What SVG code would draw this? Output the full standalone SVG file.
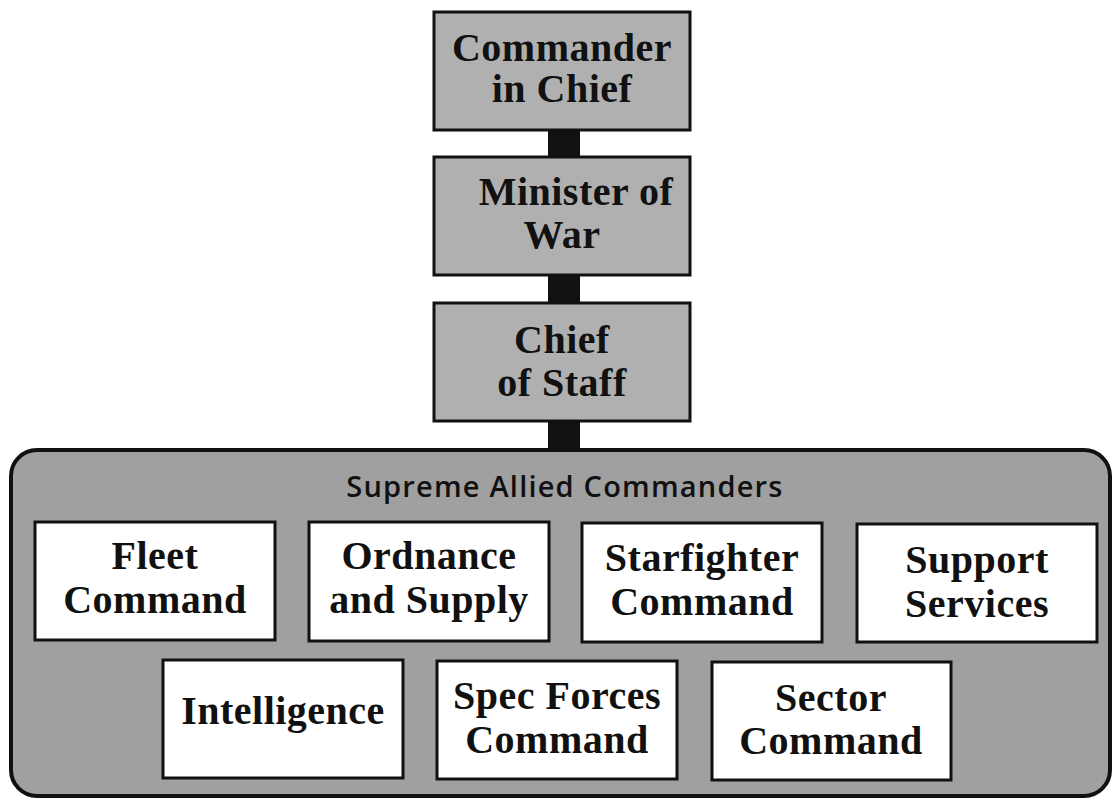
<svg xmlns="http://www.w3.org/2000/svg" width="1115" height="799" viewBox="0 0 1115 799">
<style>
.top{fill:#b0b0b0;stroke:#111;stroke-width:3}
.sub{fill:#fff;stroke:#111;stroke-width:3}
.cont{fill:#a0a0a0;stroke:#111;stroke-width:4}
.t{font-family:"Liberation Serif",serif;font-weight:bold;font-size:40px;letter-spacing:0.5px;fill:#111;text-anchor:middle}
.lab{font-family:"Open Sans","DejaVu Sans",sans-serif;font-weight:600;font-size:29px;letter-spacing:1.2px;fill:#111;text-anchor:middle}
.link{fill:#111}
</style>
<rect width="1115" height="799" fill="#fff"/>
<g id="connectors">
<rect class="link" x="548" y="128" width="32" height="31"/>
<rect class="link" x="548" y="273" width="32" height="32"/>
<rect class="link" x="548" y="419" width="32" height="33"/>
</g>
<g id="commander-in-chief">
<rect class="top" x="434" y="12" width="256" height="118"/>
<text class="t" x="562" y="61">Commander</text>
<text class="t" x="562" y="102">in Chief</text>
</g>
<g id="minister-of-war">
<rect class="top" x="434" y="157" width="256" height="118"/>
<text class="t" x="576" y="205">Minister of</text>
<text class="t" x="562" y="248">War</text>
</g>
<g id="chief-of-staff">
<rect class="top" x="434" y="303" width="256" height="118"/>
<text class="t" x="562" y="353">Chief</text>
<text class="t" x="562" y="396">of Staff</text>
</g>
<g id="supreme-allied-commanders">
<rect class="cont" x="11" y="450" width="1099" height="346" rx="26"/>
<text class="lab" x="565" y="497">Supreme Allied Commanders</text>
</g>
<g id="fleet-command">
<rect class="sub" x="35" y="522" width="240" height="118"/>
<text class="t" x="155" y="569">Fleet</text>
<text class="t" x="155" y="613">Command</text>
</g>
<g id="ordnance-and-supply">
<rect class="sub" x="309" y="522" width="240" height="119"/>
<text class="t" x="429" y="569">Ordnance</text>
<text class="t" x="429" y="613">and Supply</text>
</g>
<g id="starfighter-command">
<rect class="sub" x="582" y="523" width="240" height="119"/>
<text class="t" x="702" y="571">Starfighter</text>
<text class="t" x="702" y="615">Command</text>
</g>
<g id="support-services">
<rect class="sub" x="857" y="524" width="240" height="118"/>
<text class="t" x="977" y="573">Support</text>
<text class="t" x="977" y="617">Services</text>
</g>
<g id="intelligence">
<rect class="sub" x="163" y="660" width="240" height="118"/>
<text class="t" x="283" y="724">Intelligence</text>
</g>
<g id="spec-forces-command">
<rect class="sub" x="437" y="661" width="240" height="118"/>
<text class="t" x="557" y="709">Spec Forces</text>
<text class="t" x="557" y="753">Command</text>
</g>
<g id="sector-command">
<rect class="sub" x="712" y="662" width="239" height="118"/>
<text class="t" x="831" y="711">Sector</text>
<text class="t" x="831" y="754">Command</text>
</g>
</svg>
